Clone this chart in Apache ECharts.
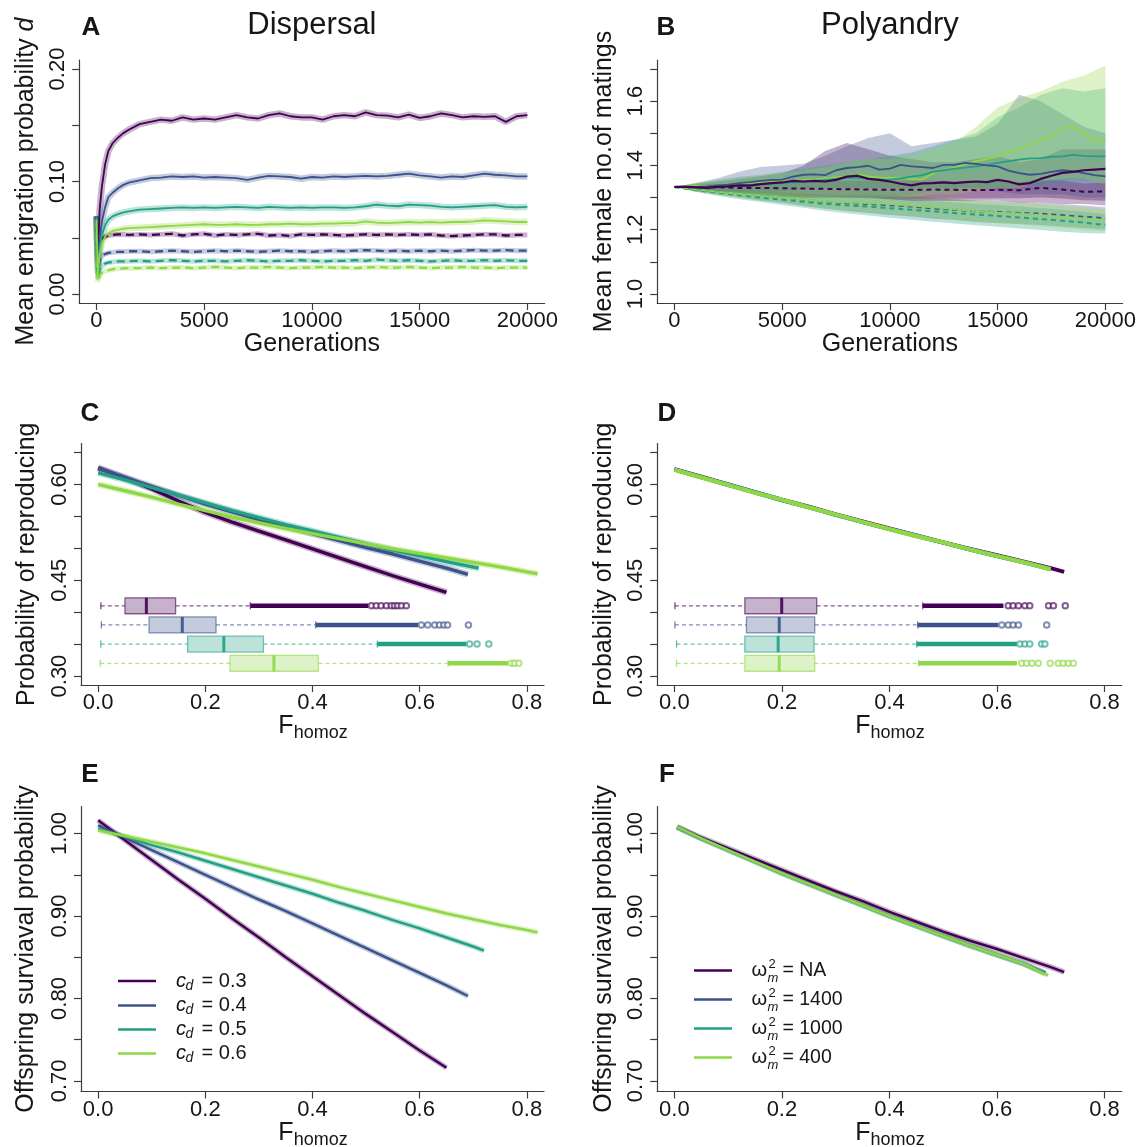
<!DOCTYPE html>
<html>
<head>
<meta charset="utf-8">
<title>Dispersal and polyandry evolution</title>
<script src="https://cdn.jsdelivr.net/npm/echarts@6/dist/echarts.min.js"></script>
<style>
  html, body { margin: 0; padding: 0; background: #ffffff; }
  #chart { width: 1137px; height: 1147px; }
</style>
</head>
<body>
<div id="chart"></div>
<script>
// ---------- Panel A: mean emigration probability d ----------
const gensA = [0,60,150,250,400,550,750,1000,1250,1500,2000,2500,3000,3500,4000,4500,5000,5500,6000,6500,7000,7500,8000,8500,9000,9500,10000,10500,11000,11500,12000,12500,13000,13500,14000,14500,15000,15500,16000,16500,17000,17500,18000,18500,19000,19500,20000];
const dispSolid03 = [0.069,0.035,0.075,0.095,0.115,0.127,0.134,0.139,0.143,0.146,0.151,0.153,0.155,0.154,0.157,0.155,0.156,0.155,0.157,0.159,0.157,0.156,0.159,0.1605,0.158,0.157,0.157,0.155,0.158,0.159,0.158,0.1615,0.159,0.1585,0.157,0.1595,0.1565,0.158,0.1605,0.159,0.157,0.158,0.1575,0.158,0.153,0.158,0.159];
const dispSolid04 = [0.069,0.028,0.05,0.064,0.077,0.086,0.09,0.094,0.097,0.099,0.101,0.103,0.1035,0.1045,0.104,0.1045,0.1035,0.104,0.1035,0.103,0.1015,0.1035,0.105,0.1045,0.104,0.1025,0.104,0.1035,0.1045,0.104,0.1045,0.105,0.1045,0.105,0.106,0.107,0.1055,0.1045,0.1035,0.1045,0.104,0.1055,0.107,0.106,0.1055,0.1045,0.1045];
const dispSolid05 = [0.069,0.022,0.04,0.052,0.061,0.066,0.069,0.071,0.0725,0.0735,0.075,0.0755,0.076,0.0765,0.077,0.0765,0.077,0.0765,0.077,0.0775,0.077,0.0765,0.0775,0.077,0.0765,0.077,0.0765,0.077,0.077,0.0765,0.077,0.078,0.0795,0.0785,0.078,0.0795,0.079,0.0785,0.0775,0.077,0.0775,0.078,0.0785,0.079,0.0775,0.077,0.0775];
const dispSolid06 = [0.066,0.018,0.035,0.045,0.051,0.054,0.056,0.057,0.058,0.0585,0.059,0.0595,0.06,0.0605,0.061,0.0615,0.062,0.0615,0.0615,0.062,0.0615,0.0615,0.062,0.062,0.0625,0.062,0.062,0.0625,0.0625,0.063,0.063,0.0645,0.0635,0.063,0.0635,0.064,0.0635,0.064,0.0635,0.064,0.064,0.0645,0.0655,0.065,0.0645,0.064,0.064];
const dispDash03 = [0.069,0.03,0.045,0.049,0.051,0.052,0.0525,0.053,0.053,0.0525,0.053,0.0525,0.053,0.0535,0.052,0.053,0.0535,0.052,0.053,0.0525,0.053,0.0535,0.052,0.0525,0.0515,0.053,0.0525,0.053,0.0525,0.052,0.0525,0.053,0.0525,0.053,0.0525,0.053,0.0525,0.053,0.052,0.0515,0.052,0.0525,0.053,0.053,0.052,0.0525,0.0525];
const dispDash04 = [0.069,0.018,0.03,0.034,0.0355,0.0365,0.037,0.0375,0.0375,0.038,0.038,0.0375,0.038,0.0385,0.038,0.0375,0.038,0.0385,0.038,0.0385,0.038,0.0375,0.038,0.0385,0.038,0.038,0.0375,0.038,0.0385,0.038,0.0385,0.039,0.0385,0.038,0.0385,0.038,0.0385,0.038,0.0385,0.038,0.0385,0.039,0.0385,0.0385,0.039,0.0385,0.0385];
const dispDash05 = [0.069,0.014,0.022,0.025,0.027,0.028,0.0285,0.029,0.029,0.0292,0.0295,0.029,0.0295,0.03,0.0295,0.029,0.0295,0.0295,0.029,0.0295,0.03,0.0295,0.029,0.0295,0.0295,0.03,0.0295,0.029,0.0295,0.0295,0.03,0.0295,0.0305,0.03,0.0295,0.03,0.0295,0.029,0.0295,0.03,0.0295,0.0295,0.03,0.0295,0.03,0.0295,0.0295];
const dispDash06 = [0.066,0.011,0.016,0.019,0.0205,0.021,0.022,0.0225,0.0228,0.023,0.023,0.0235,0.023,0.0235,0.0235,0.023,0.0235,0.024,0.0235,0.023,0.0235,0.0235,0.024,0.0235,0.023,0.0235,0.0235,0.024,0.0235,0.0235,0.023,0.0235,0.024,0.0235,0.0235,0.024,0.0235,0.023,0.0235,0.0235,0.024,0.0235,0.0235,0.023,0.0235,0.0235,0.0235];

// ---------- Panel B: mean female number of matings ----------
const gensB = [0,500,1000,1500,2000,2500,3000,3500,4000,4500,5000,5500,6000,6500,7000,7500,8000,8500,9000,9500,10000,10500,11000,11500,12000,12500,13000,13500,14000,14500,15000,15500,16000,16500,17000,17500,18000,18500,19000,19500,20000];
const polySolid03 = [1.333,1.333,1.332,1.330,1.333,1.335,1.338,1.337,1.342,1.345,1.347,1.352,1.350,1.352,1.350,1.355,1.365,1.368,1.358,1.355,1.350,1.343,1.338,1.344,1.345,1.347,1.345,1.348,1.350,1.348,1.355,1.350,1.341,1.345,1.358,1.368,1.377,1.380,1.385,1.387,1.389];
const polySolid04 = [1.333,1.334,1.333,1.335,1.338,1.340,1.345,1.348,1.352,1.355,1.356,1.365,1.371,1.372,1.370,1.385,1.392,1.395,1.399,1.387,1.390,1.402,1.397,1.395,1.392,1.402,1.402,1.408,1.405,1.400,1.397,1.384,1.376,1.371,1.374,1.380,1.385,1.382,1.376,1.370,1.366];
const polySolid05 = [1.333,1.333,1.332,1.333,1.335,1.337,1.338,1.340,1.342,1.343,1.345,1.348,1.350,1.352,1.355,1.358,1.361,1.362,1.358,1.356,1.356,1.360,1.365,1.370,1.380,1.385,1.390,1.393,1.397,1.402,1.408,1.413,1.418,1.422,1.423,1.427,1.428,1.433,1.430,1.428,1.428];
const polySolid06 = [1.333,1.334,1.336,1.335,1.337,1.340,1.342,1.344,1.347,1.348,1.350,1.352,1.354,1.356,1.360,1.363,1.366,1.371,1.366,1.362,1.361,1.361,1.358,1.356,1.375,1.387,1.393,1.405,1.413,1.420,1.428,1.440,1.452,1.465,1.478,1.491,1.515,1.520,1.500,1.475,1.480];
const gensB1k = [0,1000,2000,3000,4000,5000,6000,7000,8000,9000,10000,11000,12000,13000,14000,15000,16000,17000,18000,19000,20000];
const polyDash03 = [1.333,1.333,1.332,1.330,1.330,1.329,1.328,1.327,1.326,1.325,1.324,1.324,1.325,1.324,1.323,1.324,1.323,1.330,1.325,1.318,1.319];
const polyDash04 = [1.333,1.325,1.318,1.312,1.305,1.300,1.293,1.287,1.283,1.280,1.276,1.272,1.266,1.262,1.257,1.255,1.252,1.250,1.245,1.240,1.236];
const polyDash05 = [1.333,1.323,1.315,1.307,1.300,1.293,1.287,1.280,1.276,1.272,1.267,1.262,1.257,1.252,1.247,1.243,1.238,1.233,1.228,1.222,1.215];
const polyDash06 = [1.333,1.325,1.318,1.312,1.306,1.300,1.294,1.288,1.285,1.283,1.280,1.275,1.270,1.264,1.258,1.253,1.250,1.245,1.240,1.235,1.230];
// confidence bands (lower / upper) on the 1000-generation grid
const bandSolid03Lo = [1.333,1.326,1.320,1.315,1.310,1.305,1.300,1.300,1.300,1.300,1.295,1.290,1.290,1.290,1.290,1.290,1.285,1.285,1.280,1.280,1.275];
const bandSolid03Hi = [1.333,1.342,1.350,1.358,1.366,1.375,1.400,1.445,1.470,1.450,1.430,1.420,1.410,1.410,1.420,1.430,1.410,1.420,1.450,1.450,1.450];
const bandSolid04Lo = [1.333,1.325,1.320,1.320,1.320,1.320,1.325,1.330,1.330,1.330,1.330,1.330,1.330,1.330,1.330,1.320,1.310,1.310,1.310,1.300,1.300];
const bandSolid04Hi = [1.333,1.345,1.360,1.380,1.395,1.400,1.405,1.430,1.460,1.485,1.500,1.460,1.470,1.480,1.490,1.530,1.620,1.600,1.560,1.520,1.500];
const bandSolid05Lo = [1.333,1.320,1.315,1.310,1.305,1.300,1.300,1.300,1.300,1.300,1.300,1.310,1.320,1.320,1.330,1.330,1.340,1.340,1.350,1.350,1.350];
const bandSolid05Hi = [1.333,1.345,1.355,1.365,1.370,1.380,1.390,1.400,1.410,1.420,1.430,1.440,1.460,1.480,1.500,1.550,1.580,1.620,1.640,1.630,1.640];
const bandSolid06Lo = [1.333,1.322,1.315,1.310,1.305,1.300,1.300,1.300,1.300,1.300,1.300,1.300,1.310,1.310,1.320,1.330,1.330,1.350,1.360,1.360,1.340];
const bandSolid06Hi = [1.333,1.345,1.355,1.360,1.370,1.375,1.385,1.395,1.410,1.420,1.420,1.430,1.450,1.470,1.520,1.580,1.610,1.630,1.660,1.680,1.710];
const bandDash03Lo = [1.333,1.327,1.322,1.318,1.314,1.310,1.306,1.303,1.300,1.298,1.296,1.296,1.297,1.297,1.297,1.298,1.298,1.300,1.297,1.292,1.290];
const bandDash03Hi = [1.333,1.339,1.342,1.342,1.346,1.348,1.350,1.351,1.352,1.352,1.352,1.352,1.353,1.351,1.349,1.350,1.348,1.355,1.353,1.344,1.348];
const bandDash04Lo = [1.333,1.319,1.309,1.300,1.291,1.284,1.274,1.265,1.258,1.252,1.246,1.241,1.234,1.230,1.224,1.221,1.218,1.215,1.210,1.205,1.201];
const bandDash04Hi = [1.333,1.331,1.327,1.324,1.319,1.316,1.312,1.309,1.308,1.308,1.306,1.303,1.298,1.294,1.290,1.289,1.286,1.285,1.280,1.275,1.271];
const bandDash05Lo = [1.333,1.317,1.306,1.295,1.286,1.277,1.268,1.258,1.251,1.244,1.237,1.231,1.225,1.219,1.214,1.209,1.204,1.199,1.194,1.190,1.188];
const bandDash05Hi = [1.333,1.329,1.324,1.319,1.314,1.309,1.306,1.302,1.301,1.300,1.297,1.293,1.289,1.285,1.280,1.277,1.272,1.267,1.262,1.256,1.248];
const bandDash06Lo = [1.333,1.319,1.309,1.300,1.292,1.284,1.275,1.266,1.260,1.255,1.250,1.244,1.238,1.231,1.225,1.220,1.216,1.211,1.206,1.200,1.195];
const bandDash06Hi = [1.333,1.331,1.327,1.324,1.320,1.316,1.313,1.310,1.310,1.311,1.310,1.306,1.302,1.297,1.291,1.286,1.284,1.279,1.274,1.270,1.265];

// ---------- Panels C/D: probability of reproducing vs F_homoz ----------
const fhC03 = [0,0.05,0.1,0.15,0.2,0.25,0.3,0.35,0.4,0.45,0.5,0.55,0.6,0.65];
const reproC03 = [0.626,0.610,0.593,0.574,0.556,0.541,0.527,0.513,0.499,0.485,0.471,0.457,0.444,0.431];
const fhC04 = [0,0.05,0.1,0.15,0.2,0.25,0.3,0.35,0.4,0.45,0.5,0.55,0.6,0.65,0.69];
const reproC04 = [0.625,0.611,0.597,0.583,0.569,0.557,0.545,0.534,0.523,0.512,0.501,0.491,0.480,0.469,0.459];
const fhC05 = [0,0.05,0.1,0.15,0.2,0.25,0.3,0.35,0.4,0.45,0.5,0.55,0.6,0.65,0.71];
const reproC05 = [0.618,0.607,0.595,0.583,0.571,0.559,0.548,0.537,0.527,0.517,0.507,0.497,0.488,0.479,0.469];
const fhC06 = [0,0.05,0.1,0.15,0.2,0.25,0.3,0.35,0.4,0.45,0.5,0.55,0.6,0.65,0.7,0.75,0.8,0.82];
const reproC06 = [0.600,0.590,0.580,0.569,0.559,0.549,0.540,0.531,0.523,0.515,0.507,0.499,0.492,0.485,0.478,0.471,0.463,0.460];

const fhD = [0,0.05,0.1,0.15,0.2,0.25,0.3,0.35,0.4,0.45,0.5,0.55,0.6,0.65,0.7];
const fhD03 = [0,0.05,0.1,0.15,0.2,0.25,0.3,0.35,0.4,0.45,0.5,0.55,0.6,0.65,0.7,0.725];
const reproD03 = [0.624,0.612,0.600,0.588,0.576,0.565,0.553,0.542,0.531,0.520,0.509,0.499,0.489,0.479,0.469,0.463];
const reproD04 = [0.623,0.611,0.599,0.587,0.575,0.564,0.553,0.541,0.530,0.519,0.509,0.498,0.488,0.478,0.468];
const reproD05 = [0.623,0.611,0.600,0.588,0.576,0.564,0.552,0.541,0.530,0.520,0.509,0.498,0.488,0.478,0.467];
const reproD06 = [0.623,0.611,0.599,0.587,0.576,0.564,0.553,0.541,0.530,0.519,0.509,0.498,0.488,0.478,0.467];

// box plots of F_homoz (rows: 0.3, 0.4, 0.5, 0.6 / NA, 1400, 1000, 400)
const boxRows = [0.41, 0.38, 0.35, 0.32];
const boxC_lo = [0.005, 0.006, 0.005, 0.004];
const boxC_q1 = [0.050, 0.095, 0.167, 0.246];
const boxC_med = [0.090, 0.157, 0.2345, 0.328];
const boxC_q3 = [0.1445, 0.220, 0.3085, 0.411];
const boxC_hi = [0.284, 0.406, 0.521, 0.653];
const boxC_dense = [0.504, 0.597, 0.687, 0.765];
const outC03 = [0.510,0.519,0.528,0.538,0.547,0.553,0.559,0.566,0.575];
const outC04 = [0.603,0.615,0.628,0.637,0.645,0.652,0.691];
const outC05 = [0.693,0.707,0.729];
const outC06 = [0.771,0.777,0.785];
const boxD_lo = [0.001, 0.001, 0.004, 0.004];
const boxD_q1 = [0.131, 0.134, 0.131, 0.131];
const boxD_med = [0.1996, 0.195, 0.193, 0.195];
const boxD_q3 = [0.2647, 0.261, 0.2597, 0.261];
const boxD_hi = [0.462, 0.4525, 0.4507, 0.454];
const boxD_dense = [0.612, 0.6025, 0.637, 0.637];
const outD03 = [0.621,0.630,0.640,0.652,0.661,0.696,0.705,0.727];
const outD04 = [0.609,0.621,0.630,0.640,0.6925];
const outD05 = [0.643,0.652,0.661,0.683,0.689];
const outD06 = [0.646,0.655,0.665,0.677,0.699,0.714,0.723,0.733,0.742];

// ---------- Panels E/F: offspring survival probability ----------
const fhE03 = [0,0.05,0.1,0.15,0.2,0.25,0.3,0.35,0.4,0.45,0.5,0.55,0.6,0.65];
const survE03 = [1.016,0.992,0.968,0.944,0.921,0.897,0.874,0.850,0.827,0.804,0.781,0.759,0.737,0.716];
const fhE04 = [0,0.05,0.1,0.15,0.2,0.25,0.3,0.35,0.4,0.45,0.5,0.55,0.6,0.65,0.69];
const survE04 = [1.010,0.995,0.980,0.965,0.950,0.935,0.920,0.906,0.891,0.876,0.861,0.846,0.831,0.816,0.803];
const fhE05 = [0,0.05,0.1,0.15,0.2,0.25,0.3,0.35,0.4,0.45,0.5,0.55,0.6,0.65,0.7,0.72];
const survE05 = [1.006,0.996,0.986,0.977,0.967,0.957,0.947,0.937,0.927,0.916,0.906,0.895,0.885,0.874,0.863,0.858];
const fhE06 = [0,0.05,0.1,0.15,0.2,0.25,0.3,0.35,0.4,0.45,0.5,0.55,0.6,0.65,0.7,0.75,0.8,0.82];
const survE06 = [1.004,0.997,0.990,0.983,0.976,0.968,0.960,0.952,0.944,0.935,0.927,0.919,0.911,0.903,0.896,0.889,0.883,0.880];

const fhF03 = [0.005,0.05,0.1,0.15,0.2,0.25,0.3,0.35,0.4,0.45,0.5,0.55,0.6,0.65,0.7,0.725];
const survF03 = [1.008,0.995,0.982,0.969,0.956,0.943,0.930,0.918,0.905,0.893,0.881,0.870,0.860,0.849,0.838,0.832];
const fhF = [0.005,0.05,0.1,0.15,0.2,0.25,0.3,0.35,0.4,0.45,0.5,0.55,0.6,0.65,0.69];
const survF04 = [1.008,0.994,0.980,0.966,0.952,0.939,0.926,0.913,0.900,0.888,0.876,0.864,0.853,0.842,0.831];
const survF05 = [1.008,0.994,0.980,0.966,0.952,0.939,0.926,0.913,0.900,0.888,0.876,0.864,0.853,0.842,0.830];
const fhF06 = [0.005,0.05,0.1,0.15,0.2,0.25,0.3,0.35,0.4,0.45,0.5,0.55,0.6,0.65,0.695];
const survF06 = [1.008,0.994,0.980,0.966,0.952,0.939,0.926,0.913,0.900,0.888,0.876,0.864,0.853,0.842,0.828];

// ---------- axis ticks ----------
const genTicks = [0, 5000, 10000, 15000, 20000];
const fTicks = [0, 0.2, 0.4, 0.6, 0.8];
const dispTicks = [0, 0.05, 0.10, 0.15, 0.20];
const dispLabels = [0, 0.10, 0.20];
const polyTicks = [1.0, 1.1, 1.2, 1.3, 1.4, 1.5, 1.6, 1.7];
const polyLabels = [1.0, 1.2, 1.4, 1.6];
const reproTicks = [0.30, 0.35, 0.40, 0.45, 0.50, 0.55, 0.60, 0.65];
const reproLabels = [0.30, 0.45, 0.60];
const survTicks = [0.70, 0.75, 0.80, 0.85, 0.90, 0.95, 1.00];
const survLabels = [0.70, 0.80, 0.90, 1.00];

const cdLabels = ['0.3', '0.4', '0.5', '0.6'];
const omegaLabels = ['NA', '1400', '1000', '400'];

// ---------- styling ----------
const FONT = '"Liberation Sans", Arial, Helvetica, sans-serif';
const INK = '#161616';
const AXIS = '#3c3c3c';
const COLS = ['#440154', '#3B528B', '#21A086', '#8FD744'];
const BOX_HALF = 0.0125;

function rgba(hex, a) {
  const n = parseInt(hex.slice(1), 16);
  return 'rgba(' + (n >> 16) + ',' + ((n >> 8) & 255) + ',' + (n & 255) + ',' + a + ')';
}
function pts(xs, ys) { return xs.map((x, i) => [x, ys[i]]); }

const grids = [
  { left: 79.2, top: 60, width: 465.4, height: 243 },
  { left: 657.2, top: 60, width: 465.4, height: 243 },
  { left: 81, top: 443.5, width: 463, height: 241.5 },
  { left: 657.2, top: 443.5, width: 464.5, height: 241.5 },
  { left: 81, top: 806.5, width: 463, height: 285 },
  { left: 657.2, top: 806.5, width: 464.5, height: 285 }
].map(g => Object.assign({ containLabel: false, outerBoundsMode: 'none' }, g));

function makeX(gi, min, max, ticks, dec) {
  return {
    type: 'value', gridIndex: gi, min: min, max: max,
    axisLine: { show: true, onZero: false, lineStyle: { color: AXIS, width: 1.2 } },
    axisTick: { show: true, inside: false, length: 7, customValues: ticks, lineStyle: { color: AXIS, width: 1.2 } },
    axisLabel: { show: true, customValues: ticks, margin: 7, fontSize: 22, fontFamily: FONT, color: INK,
      formatter: v => dec == null ? String(Math.round(v)) : Number(v).toFixed(dec) },
    splitLine: { show: false }
  };
}
function makeY(gi, min, max, ticks, labels, dec) {
  return {
    type: 'value', gridIndex: gi, min: min, max: max,
    axisLine: { show: true, onZero: false, lineStyle: { color: AXIS, width: 1.2 } },
    axisTick: { show: true, inside: false, length: 7, customValues: ticks, lineStyle: { color: AXIS, width: 1.2 } },
    axisLabel: { show: true, customValues: labels, rotate: 90, margin: 10, fontSize: 22, fontFamily: FONT, color: INK,
      formatter: v => Number(v).toFixed(dec) },
    splitLine: { show: false }
  };
}

const xAxes = [
  makeX(0, -800, 20800, genTicks, null),
  makeX(1, -800, 20800, genTicks, null),
  makeX(2, -0.032, 0.832, fTicks, 1),
  makeX(3, -0.032, 0.832, fTicks, 1),
  makeX(4, -0.032, 0.832, fTicks, 1),
  makeX(5, -0.032, 0.832, fTicks, 1)
];
const yAxes = [
  makeY(0, -0.008, 0.208, dispTicks, dispLabels, 2),
  makeY(1, 0.972, 1.728, polyTicks, polyLabels, 1),
  makeY(2, 0.286, 0.664, reproTicks, reproLabels, 2),
  makeY(3, 0.286, 0.664, reproTicks, reproLabels, 2),
  makeY(4, 0.6872, 1.0328, survTicks, survLabels, 2),
  makeY(5, 0.6872, 1.0328, survTicks, survLabels, 2)
];

const series = [];
function addLine(ai, data, color, width, dash, z) {
  series.push({ type: 'line', xAxisIndex: ai, yAxisIndex: ai, data: data, symbol: 'none', showSymbol: false,
    silent: true, z: z || 3, lineStyle: { color: color, width: width, type: dash || 'solid', cap: 'butt' } });
}

// Panel A: translucent confidence strip under each trajectory
const dispSolid = [dispSolid03, dispSolid04, dispSolid05, dispSolid06];
const dispDash = [dispDash03, dispDash04, dispDash05, dispDash06];
dispSolid.forEach((ys, k) => addLine(0, pts(gensA, ys), rgba(COLS[k], 0.3), 6.5, 'solid', 1));
dispDash.forEach((ys, k) => addLine(0, pts(gensA, ys), rgba(COLS[k], 0.3), 5, 'solid', 1));
dispDash.forEach((ys, k) => addLine(0, pts(gensA, ys), COLS[k], 2.3, [8, 5], 3));
dispSolid.forEach((ys, k) => addLine(0, pts(gensA, ys), COLS[k], 1.8, 'solid', 3));

// Panel B: shaded bands as polygons through the axis scale
function addBand(ai, xs, lo, hi, color) {
  series.push({
    type: 'custom', xAxisIndex: ai, yAxisIndex: ai, silent: true, z: 1,
    data: xs.map((x, i) => [x, lo[i], hi[i]]),
    encode: { x: 0, y: [1, 2] },
    renderItem: function (params, api) {
      if (params.dataIndex !== 0) return null;
      const poly = [];
      for (let i = 0; i < xs.length; i++) poly.push(api.coord([xs[i], hi[i]]));
      for (let i = xs.length - 1; i >= 0; i--) poly.push(api.coord([xs[i], lo[i]]));
      return { type: 'polygon', shape: { points: poly }, style: { fill: color } };
    }
  });
}
const dashBands = [[bandDash03Lo, bandDash03Hi], [bandDash04Lo, bandDash04Hi], [bandDash05Lo, bandDash05Hi], [bandDash06Lo, bandDash06Hi]];
const solidBands = [[bandSolid03Lo, bandSolid03Hi], [bandSolid04Lo, bandSolid04Hi], [bandSolid05Lo, bandSolid05Hi], [bandSolid06Lo, bandSolid06Hi]];
dashBands.forEach((b, k) => addBand(1, gensB1k, b[0], b[1], rgba(COLS[k], 0.3)));
solidBands.forEach((b, k) => addBand(1, gensB1k, b[0], b[1], rgba(COLS[k], 0.3)));
[polyDash03, polyDash04, polyDash05, polyDash06].forEach((ys, k) => addLine(1, pts(gensB1k, ys), COLS[k], 2, [5, 4], 3));
[polySolid06, polySolid05, polySolid04].forEach((ys, i) => addLine(1, pts(gensB, ys), COLS[3 - i], 1.8, 'solid', 3));
addLine(1, pts(gensB, polySolid03), COLS[0], 2.2, 'solid', 4);

// Panels C/D: horizontal box plots drawn with the axis scale
function renderBox(params, api) {
  const lo = api.value(0), q1 = api.value(1), med = api.value(2), q3 = api.value(3);
  const hi = api.value(4), row = api.value(5), dense = api.value(6), ci = api.value(7);
  const col = COLS[ci];
  const h = api.size([0, BOX_HALF])[1];
  const pLo = api.coord([lo, row]);
  const y = pLo[1];
  const xLo = pLo[0];
  const xQ1 = api.coord([q1, row])[0], xMed = api.coord([med, row])[0], xQ3 = api.coord([q3, row])[0];
  const xHi = api.coord([hi, row])[0], xDense = api.coord([dense, row])[0];
  const st = h * 0.45;
  const wStyle = { stroke: rgba(col, 0.65), lineWidth: 1.3, lineDash: [4, 3] };
  const sStyle = { stroke: rgba(col, 0.7), lineWidth: 1.3 };
  return {
    type: 'group', children: [
      { type: 'line', shape: { x1: xLo, y1: y, x2: xQ1, y2: y }, style: wStyle },
      { type: 'line', shape: { x1: xQ3, y1: y, x2: xHi, y2: y }, style: wStyle },
      { type: 'line', shape: { x1: xLo, y1: y - st, x2: xLo, y2: y + st }, style: sStyle },
      { type: 'line', shape: { x1: xHi, y1: y - st, x2: xHi, y2: y + st }, style: sStyle },
      { type: 'rect', shape: { x: xQ1, y: y - h, width: xQ3 - xQ1, height: 2 * h },
        style: { fill: rgba(col, 0.3), stroke: rgba(col, 0.6), lineWidth: 1.3 } },
      { type: 'line', shape: { x1: xMed, y1: y - h, x2: xMed, y2: y + h }, style: { stroke: rgba(col, 0.9), lineWidth: 3 } },
      { type: 'line', shape: { x1: xHi, y1: y, x2: xDense, y2: y }, style: { stroke: col, lineWidth: 4.5 } }
    ]
  };
}
function addBoxes(ai, lo, q1, med, q3, hi, dense, outs) {
  series.push({
    type: 'custom', xAxisIndex: ai, yAxisIndex: ai, silent: true, z: 2,
    data: boxRows.map((r, k) => [lo[k], q1[k], med[k], q3[k], hi[k], r, dense[k], k]),
    encode: { x: [0, 1, 2, 3, 4, 6], y: 5 },
    renderItem: renderBox
  });
  outs.forEach((xs, k) => {
    series.push({
      type: 'scatter', xAxisIndex: ai, yAxisIndex: ai, silent: true, z: 2,
      data: xs.map(x => [x, boxRows[k]]), symbol: 'emptyCircle', symbolSize: 5.5,
      itemStyle: { color: rgba(COLS[k], 0.8), borderWidth: 1 }
    });
  });
}
addBoxes(2, boxC_lo, boxC_q1, boxC_med, boxC_q3, boxC_hi, boxC_dense, [outC03, outC04, outC05, outC06]);
addBoxes(3, boxD_lo, boxD_q1, boxD_med, boxD_q3, boxD_hi, boxD_dense, [outD03, outD04, outD05, outD06]);

const reproC = [[fhC03, reproC03], [fhC04, reproC04], [fhC05, reproC05], [fhC06, reproC06]];
reproC.forEach((d, k) => addLine(2, pts(d[0], d[1]), rgba(COLS[k], 0.3), 6.5, 'solid', 3));
reproC.forEach((d, k) => addLine(2, pts(d[0], d[1]), COLS[k], 3.4, 'solid', 4));
const reproD = [[fhD03, reproD03], [fhD, reproD04], [fhD, reproD05], [fhD, reproD06]];
reproD.forEach((d, k) => addLine(3, pts(d[0], d[1]), COLS[k], k === 3 ? 4.2 : 4, 'solid', 4));

// Panels E/F
const survE = [[fhE03, survE03], [fhE04, survE04], [fhE05, survE05], [fhE06, survE06]];
survE.forEach((d, k) => addLine(4, pts(d[0], d[1]), rgba(COLS[k], 0.3), 5.5, 'solid', 2));
survE.forEach((d, k) => addLine(4, pts(d[0], d[1]), COLS[k], 2.5, 'solid', 3));
const survF = [[fhF03, survF03], [fhF, survF04], [fhF, survF05], [fhF06, survF06]];
survF.forEach((d, k) => addLine(5, pts(d[0], d[1]), rgba(COLS[k], 0.3), 5.5, 'solid', 2));
survF.forEach((d, k) => addLine(5, pts(d[0], d[1]), COLS[k], 2.5, 'solid', 3));

// ---------- texts: titles, panel letters, axis titles, legends ----------
const graphics = [];
function txt(x, y, text, size, opts) {
  opts = opts || {};
  graphics.push({
    type: 'text', x: x, y: y, rotation: opts.rot || 0, silent: true, z: 10,
    style: Object.assign({
      text: text, fill: INK, fontSize: size, fontFamily: FONT,
      fontWeight: opts.bold ? 'bold' : 'normal', fontStyle: opts.italic ? 'italic' : 'normal',
      textAlign: opts.align || 'center', textVerticalAlign: 'middle'
    }, opts.rich ? { rich: opts.rich } : {})
  });
}
const centerX = g => g.left + g.width / 2;
const centerY = g => g.top + g.height / 2;

txt(centerX(grids[0]), 25, 'Dispersal', 31);
txt(centerX(grids[1]), 25, 'Polyandry', 31);
[['A', 91, 27.5], ['B', 666, 27.5], ['C', 90, 413.5], ['D', 667, 413.5], ['E', 90, 775], ['F', 667, 775]]
  .forEach(p => txt(p[1], p[2], p[0], 26, { bold: true }));

const R90 = Math.PI / 2;
txt(26, centerY(grids[0]), '{n|Mean emigration probability }{i|d}', 25, {
  rot: R90,
  rich: { n: { fontSize: 25, fontFamily: FONT, fill: INK }, i: { fontSize: 25, fontFamily: FONT, fill: INK, fontStyle: 'italic' } }
});
txt(604, centerY(grids[1]), 'Mean female no.of matings', 25, { rot: R90 });
txt(27, centerY(grids[2]), 'Probability of reproducing', 25, { rot: R90 });
txt(604, centerY(grids[3]), 'Probability of reproducing', 25, { rot: R90 });
txt(26, centerY(grids[4]), 'Offspring surviaval probability', 25, { rot: R90 });
txt(604, centerY(grids[5]), 'Offspring surviaval probability', 25, { rot: R90 });

txt(centerX(grids[0]), 344, 'Generations', 25);
txt(centerX(grids[1]), 344, 'Generations', 25);
function fHomoz(cx, yF) {
  const wF = 15.3, wH = 53;
  const x0 = cx - (wF + wH) / 2;
  txt(x0, yF, 'F', 25, { align: 'left' });
  txt(x0 + wF, yF + 7.5, 'homoz', 18, { align: 'left' });
}
fHomoz(centerX(grids[2]), 726);
fHomoz(centerX(grids[3]), 726);
fHomoz(centerX(grids[4]), 1133);
fHomoz(centerX(grids[5]), 1133);

// legend of panel E
const legE = [981, 1005.5, 1029.5, 1053.5];
legE.forEach((y, k) => {
  graphics.push({ type: 'line', silent: true, z: 10, shape: { x1: 118, y1: y, x2: 156, y2: y },
    style: { stroke: COLS[k], lineWidth: 2.5 } });
  txt(176, y, 'c', 20, { align: 'left', italic: true });
  txt(185.5, y + 5, 'd', 14, { align: 'left', italic: true });
  txt(196, y, ' = ' + cdLabels[k], 20, { align: 'left' });
});
// legend of panel F
const legF = [970.5, 999.5, 1028.5, 1057.5];
legF.forEach((y, k) => {
  graphics.push({ type: 'line', silent: true, z: 10, shape: { x1: 694, y1: y, x2: 732, y2: y },
    style: { stroke: COLS[k], lineWidth: 2.5 } });
  txt(751.5, y, '\u03c9', 20, { align: 'left' });
  txt(768.5, y - 6.5, '2', 13, { align: 'left' });
  txt(767.5, y + 8, 'm', 13, { align: 'left', italic: true });
  txt(777, y, ' = ' + omegaLabels[k], 19.5, { align: 'left' });
});

const chart = echarts.init(document.getElementById('chart'), null, { renderer: 'canvas' });
chart.setOption({
  animation: false,
  backgroundColor: '#ffffff',
  grid: grids,
  xAxis: xAxes,
  yAxis: yAxes,
  series: series,
  graphic: { elements: graphics }
});
</script>
</body>
</html>
